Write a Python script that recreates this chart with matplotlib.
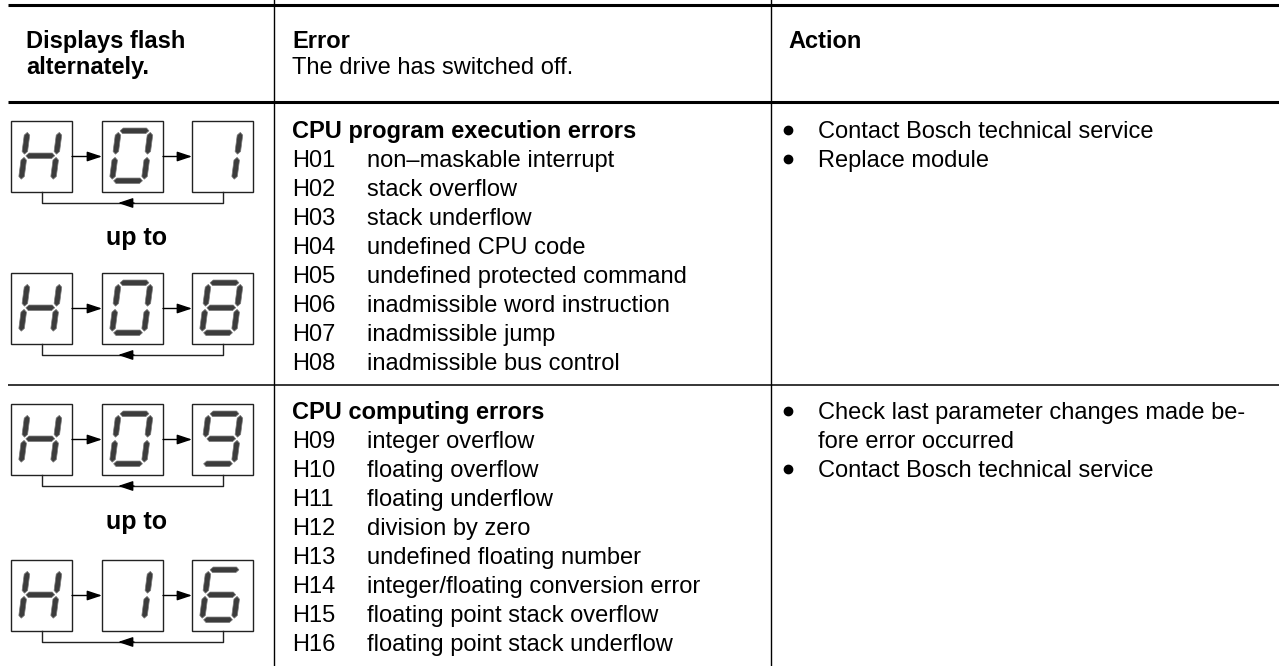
import matplotlib.pyplot as plt
from matplotlib.patches import Polygon, Rectangle

plt.rcParams['font.family'] = ['Liberation Sans', 'DejaVu Sans']

# ---- table content ----
header_left = ["Displays flash", "alternately."]
header_mid_title = "Error"
header_mid_sub = "The drive has switched off."
header_right = "Action"

row_titles = ["CPU program execution errors", "CPU computing errors"]
row_codes = [
    ["H01", "H02", "H03", "H04", "H05", "H06", "H07", "H08"],
    ["H09", "H10", "H11", "H12", "H13", "H14", "H15", "H16"],
]
row_descr = [
    ["non\u2013maskable interrupt", "stack overflow", "stack underflow",
     "undefined CPU code", "undefined protected command",
     "inadmissible word instruction", "inadmissible jump",
     "inadmissible bus control"],
    ["integer overflow", "floating overflow", "floating underflow",
     "division by zero", "undefined floating number",
     "integer/floating conversion error", "floating point stack overflow",
     "floating point stack underflow"],
]
row_actions = [
    [["Contact Bosch technical service"], ["Replace module"]],
    [["Check last parameter changes made be-", "fore error occurred"],
     ["Contact Bosch technical service"]],
]
# seven segment displays: first and last code of each row
display_from = [["H", "0", "1"], ["H", "0", "9"]]
display_to = [["H", "0", "8"], ["H", "1", "6"]]
between_label = "up to"

# segments lit per character
SEGMENTS = {
    "H": "bcefg", "0": "abcdef", "1": "bc", "6": "acdefg",
    "8": "abcdefg", "9": "abcdfg",
}

# ---- layout (pixels) ----
W, H = 1279, 666
FS = 17
col_x = [274, 771]
y_top, y_head, y_div = 5, 102, 385
line_step = 29
title_y = [130, 411]
code_x, descr_x = 292, 367
bullet_x, action_x = 788, 818
display_tops = [[121, 273], [404, 560]]
upto_y = [238, 522]
box_x = [11, 102, 192]
box_w, box_h = 61, 71


def txt_y(c):
    # convert a visual line centre into a baseline position
    return c + 8


fig = plt.figure(figsize=(W / 100, H / 100), dpi=100)
ax = fig.add_axes([0, 0, 1, 1])
ax.set_xlim(0, W)
ax.set_ylim(H, 0)
ax.axis('off')

# grid lines
ax.plot([8, W], [y_top, y_top], color='black', lw=2.2, solid_capstyle='butt')
ax.plot([8, W], [y_head, y_head], color='black', lw=2.2, solid_capstyle='butt')
ax.plot([8, W], [y_div, y_div], color='black', lw=1.1, solid_capstyle='butt')
for cx in col_x:
    ax.plot([cx, cx], [0, H], color='black', lw=1.0)

# header
ax.text(26, txt_y(40), header_left[0], fontsize=FS, fontweight='bold', va='baseline')
ax.text(26, txt_y(40) + 26, header_left[1], fontsize=FS, fontweight='bold', va='baseline')
ax.text(code_x, txt_y(40), header_mid_title, fontsize=FS, fontweight='bold', va='baseline')
ax.text(code_x, txt_y(40) + 26, header_mid_sub, fontsize=FS, va='baseline')
ax.text(bullet_x, txt_y(40), header_right, fontsize=FS, fontweight='bold', va='baseline')

# error rows
for r in range(2):
    ty = title_y[r]
    ax.text(code_x, txt_y(ty), row_titles[r], fontsize=FS, fontweight='bold', va='baseline')
    for i, (code, desc) in enumerate(zip(row_codes[r], row_descr[r])):
        yy = txt_y(ty + (i + 1) * line_step)
        ax.text(code_x, yy, code, fontsize=FS, va='baseline')
        ax.text(descr_x, yy, desc, fontsize=FS, va='baseline')
    k = 0
    for item in row_actions[r]:
        ax.plot(bullet_x, ty + k * line_step, 'o', color='black', ms=6)
        for part in item:
            ax.text(action_x, txt_y(ty + k * line_step), part, fontsize=FS, va='baseline')
            k += 1


def segment_shapes(cx, cy):
    a, b, t, g, s = 16, 25, 5.5, 1.6, 0.13
    h = t / 2

    def horiz(v):
        u0, u1 = -a + g, a - g
        return [(u0, v), (u0 + h, v + h), (u1 - h, v + h), (u1, v), (u1 - h, v - h), (u0 + h, v - h)]

    def vert(u, lo, hi):
        v0, v1 = lo + g, hi - g
        return [(u, v0), (u + h, v0 + h), (u + h, v1 - h), (u, v1), (u - h, v1 - h), (u - h, v0 + h)]

    shapes = {
        "a": horiz(b), "g": horiz(0), "d": horiz(-b),
        "f": vert(-a, 0, b), "b": vert(a, 0, b),
        "e": vert(-a, -b, 0), "c": vert(a, -b, 0),
    }
    out = {}
    for k, pts in shapes.items():
        out[k] = [(cx + u + s * v, cy - v) for u, v in pts]
    return out


def draw_display(chars, top):
    mid = top + box_h / 2
    for x0, ch in zip(box_x, chars):
        ax.add_patch(Rectangle((x0, top), box_w, box_h, fill=False,
                               edgecolor='#222222', lw=1.0))
        shapes = segment_shapes(x0 + 0.48 * box_w, top + 0.49 * box_h)
        for seg in SEGMENTS[ch]:
            ax.add_patch(Polygon(shapes[seg], closed=True, facecolor='#3c3c3c',
                                 edgecolor='#7a7a7a', lw=0.5))
    # forward arrows between boxes
    for i in range(2):
        xs = box_x[i] + box_w
        xe = box_x[i + 1]
        ax.annotate('', xy=(xe, mid), xytext=(xs, mid),
                    arrowprops=dict(arrowstyle='-|>,head_length=0.9,head_width=0.3',
                                    color='black', lw=1.0, shrinkA=0, shrinkB=0))
    # return loop
    c1 = box_x[0] + box_w / 2
    c3 = box_x[2] + box_w / 2
    yb = top + box_h
    yl = yb + 11
    ax.plot([c3, c3, c1, c1], [yb, yl, yl, yb], color='#222222', lw=1.0)
    xm = (c1 + c3) / 2
    ax.annotate('', xy=(xm - 14, yl), xytext=(xm + 2, yl),
                arrowprops=dict(arrowstyle='-|>,head_length=0.9,head_width=0.3',
                                color='black', lw=1.0, shrinkA=0, shrinkB=0))


for r in range(2):
    draw_display(display_from[r], display_tops[r][0])
    draw_display(display_to[r], display_tops[r][1])
    ax.text(137, upto_y[r], between_label, fontsize=18, fontweight='bold',
            ha='center', va='center')

fig.savefig('out.png', dpi=100)
